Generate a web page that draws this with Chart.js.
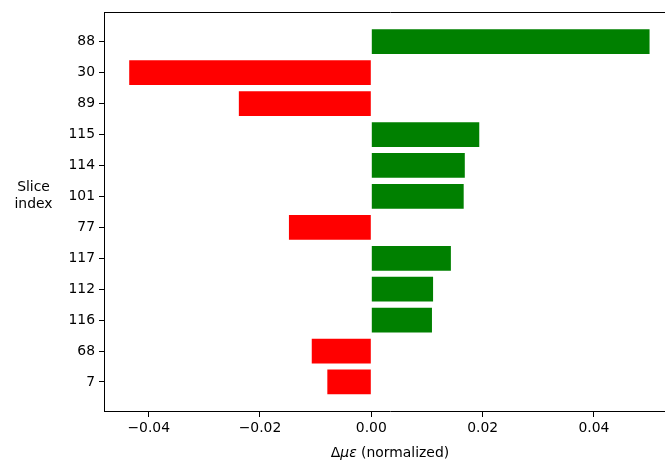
<!DOCTYPE html>
<html>
<head>
<meta charset="utf-8">
<script src="https://cdn.jsdelivr.net/npm/chart.js@4"></script>
<style>
    html, body { margin: 0; padding: 0; background: #fff; overflow: hidden; }
    #wrap { width: 680px; height: 464px; }
</style>
</head>
<body>
<div id="wrap"><canvas id="GraficoSlices"></canvas></div>
<script>
var sliceIndex = ['88', '30', '89', '115', '114', '101', '77', '117', '112', '116', '68', '7'];
var deltaMuEps = [0.0500, -0.0435, -0.0238, 0.0194, 0.0168, 0.0166, -0.0148, 0.0143, 0.0111, 0.0109, -0.0107, -0.0079];
var xTicks = [-0.04, -0.02, 0.00, 0.02, 0.04];

var fonte = 'DejaVu Sans';

// moldura de cima/direita + titulos dos eixos (com parte em italico)
var molduraPlugin = {
    id: 'moldura',
    afterDraw: function (chart) {
        var ctx = chart.ctx;
        var a = chart.chartArea;
        ctx.save();
        ctx.strokeStyle = '#000';
        ctx.lineWidth = 1;
        ctx.beginPath();
        ctx.moveTo(Math.floor(a.left) + 0.5, Math.floor(a.top) + 0.5);
        ctx.lineTo(Math.floor(a.right) + 0.5, Math.floor(a.top) + 0.5);
        ctx.lineTo(Math.floor(a.right) + 0.5, Math.floor(a.bottom) + 0.5);
        ctx.stroke();

        ctx.fillStyle = '#000';
        ctx.textBaseline = 'alphabetic';
        ctx.textAlign = 'center';
        ctx.font = '13.9px "' + fonte + '"';
        ctx.fillText('Slice', 33.5, 191);
        ctx.fillText('index', 33.5, 207.5);

        var partes = [['\u0394', ''], ['\u03bc\u03b5', 'italic '], [' (normalized)', '']];
        var total = 0;
        partes.forEach(function (p) {
            ctx.font = p[1] + '13.9px "' + fonte + '"';
            p.push(ctx.measureText(p[0]).width);
            total += p[2];
        });
        var x = (a.left + a.right) / 2 - total / 2;
        ctx.textAlign = 'left';
        partes.forEach(function (p) {
            ctx.font = p[1] + '13.9px "' + fonte + '"';
            ctx.fillText(p[0], x, 457);
            x += p[2];
        });
        ctx.restore();
    }
};

var ctx = document.getElementById('GraficoSlices').getContext('2d');

var grafico = new Chart(ctx, {
    type: 'bar',
    data: {
        datasets: [
            {
                label: 'delta',
                data: deltaMuEps.map(function (v, i) { return { x: v, y: i }; }),
                backgroundColor: deltaMuEps.map(function (v) { return v >= 0 ? '#008000' : '#ff0000'; }),
                borderWidth: 0,
                categoryPercentage: 1,
                barPercentage: 0.8
            }
        ]
    },
    options: {
        indexAxis: 'y',
        responsive: true,
        maintainAspectRatio: false,
        animation: false,
        layout: { padding: { top: 11, right: 4, left: 0, bottom: 0 } },
        plugins: {
            legend: { display: false },
            tooltip: { enabled: false }
        },
        scales: {
            x: {
                type: 'linear',
                min: -0.04803,
                max: 0.05475,
                afterBuildTicks: function (s) { s.ticks = xTicks.map(function (v) { return { value: v }; }); },
                afterFit: function (s) { s.height = 52; },
                grid: { display: true, drawOnChartArea: false, drawTicks: true, tickLength: 5, color: '#000', tickWidth: 1 },
                border: { display: true, color: '#000', width: 1 },
                ticks: {
                    color: '#000',
                    autoSkip: false,
                    maxRotation: 0,
                    padding: 3,
                    font: { family: fonte, size: 13.9 },
                    callback: function (v) { return Number(v).toFixed(2).replace('-', '\u2212'); }
                }
            },
            y: {
                type: 'linear',
                reverse: true,
                offset: false,
                min: -0.95,
                max: 11.97,
                afterBuildTicks: function (s) { s.ticks = sliceIndex.map(function (l, i) { return { value: i }; }); },
                afterFit: function (s) { s.width = 104; },
                grid: { display: true, offset: false, drawOnChartArea: false, drawTicks: true, tickLength: 5, color: '#000', tickWidth: 1 },
                border: { display: true, color: '#000', width: 1 },
                ticks: {
                    color: '#000',
                    autoSkip: false,
                    padding: 4,
                    font: { family: fonte, size: 13.9 },
                    callback: function (v, i) { return sliceIndex[i]; }
                }
            }
        }
    },
    plugins: [molduraPlugin]
});
</script>
</body>
</html>
